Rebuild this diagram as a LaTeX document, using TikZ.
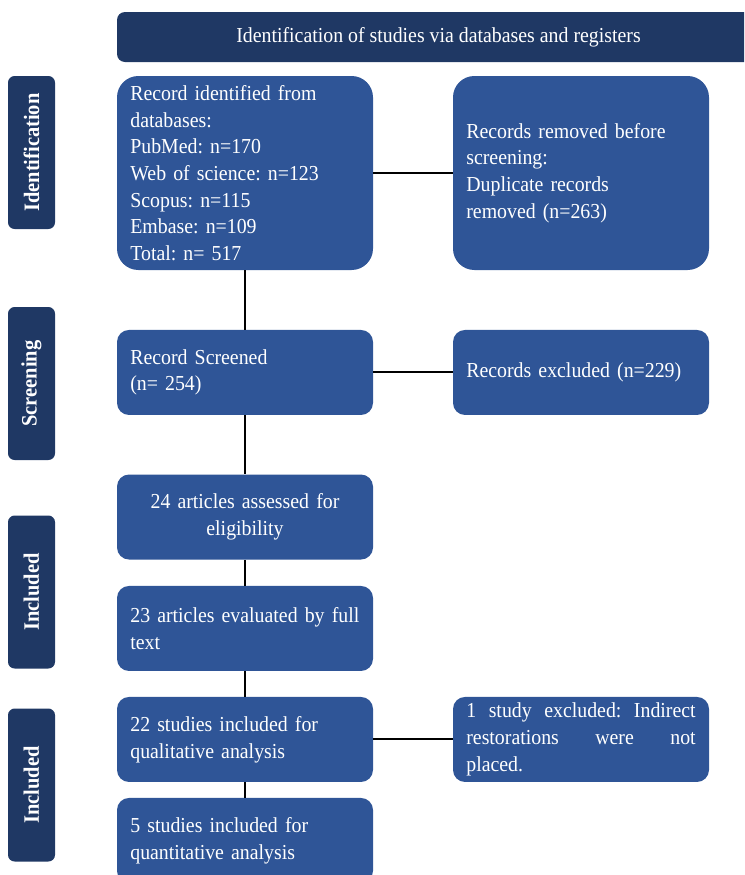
\documentclass[tikz,border=0pt]{standalone}
\usepackage{fontspec}
\setmainfont[FakeStretch=0.93]{Liberation Serif}
\usetikzlibrary{positioning}
\definecolor{boxblue}{HTML}{2F5597}
\definecolor{navy}{HTML}{1F3864}
\frenchspacing
\tikzset{node distance=2cm, auto}
\tikzset{
  box/.style={fill=boxblue, text=white, rounded corners=9pt, text width=172pt,
    inner xsep=10pt, minimum height=63.75pt, align=left,
    font=\fontsize{16}{20}\selectfont},
  side/.style={fill=navy, text=white, rounded corners=5pt, rotate=90,
    minimum width=114.75pt, minimum height=35.25pt,
    font=\bfseries\fontsize{16.5}{18}\selectfont},
  link/.style={line width=1.5pt}
}

\begin{document}
\begin{tikzpicture}[x=0.75pt, y=-0.75pt]

           \path[use as bounding box, clip] (0,0) rectangle (744,875);

           \node[fill=navy, text=white, rounded corners=6pt, minimum width=482.25pt,
             minimum height=37.5pt, font=\fontsize{16}{18}\selectfont] (head) at (438.5,37)
             {Identification of studies via databases and registers};

           \node[side] (sIdent) at (31.5,152.5) {Identification};
           \node[side] (sScreen) at (31.5,383.5) {Screening};
           \node[side] (sIncA) at (31.5,592) {Included};
           \node[side] (sIncB) at (31.5,785) {Included};

           \node[box, minimum height=145.5pt, rounded corners=16pt] (ident) at (245,173)
             {Record identified from\\databases:\\PubMed: n=170\\Web of science: n=123\\Scopus: n=115\\Embase: n=109\\Total: n= 517};
           \node[box, minimum height=145.5pt, rounded corners=16pt] (removed) [right of=ident, node distance=252pt]
             {Records removed before\\screening:\\Duplicate records\\removed (n=263)};
           \node[box] (screen) [below of=ident, node distance=149.6pt] {Record Screened\\(n= 254)};
           \node[box] (excl) [right of=screen, node distance=252pt] {Records excluded (n=229)};
           \node[box, align=center] (elig) [below of=screen, node distance=108.4pt] {24 articles assessed for\\eligibility};
           \node[box] (fulltext) [below of=elig, node distance=83.6pt] {23 articles evaluated by full\\text};
           \node[box] (qual) [below of=fulltext, node distance=83.25pt] {22 studies included for\\qualitative analysis};
           \node[box, align=justify] (notplaced) [right of=qual, node distance=252pt]
             {1 study excluded: Indirect\linebreak restorations were not\linebreak placed.};
           \node[box] (quant) [below of=qual, node distance=75.75pt] {5 studies included for\\quantitative analysis};

           \draw[link] (ident) to (removed);
           \draw[link] (ident) to (screen);
           \draw[link] (screen) to (excl);
           \draw[link] (screen) to (elig);
           \draw[link] (elig) to (fulltext);
           \draw[link] (fulltext) to (qual);
           \draw[link] (qual) to (notplaced);
           \draw[link] (qual) to (quant);

         \end{tikzpicture}
\end{document}
